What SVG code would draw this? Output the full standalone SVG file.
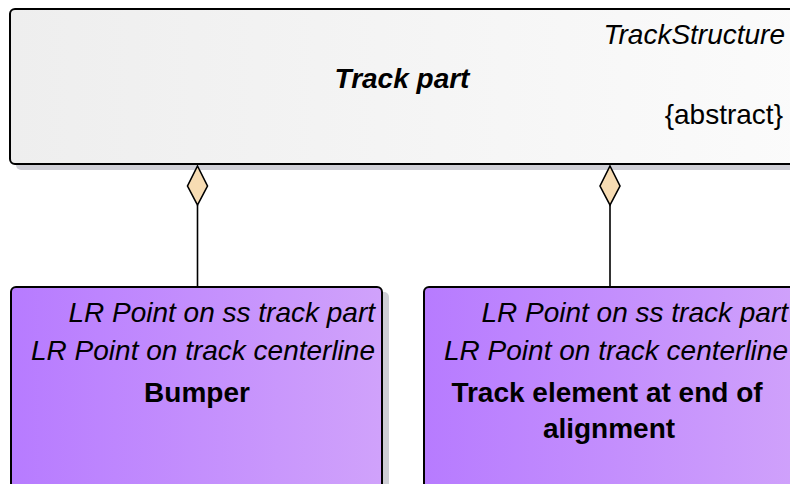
<svg xmlns="http://www.w3.org/2000/svg" width="790" height="484" viewBox="0 0 790 484">
<defs>
<linearGradient id="gGray" x1="0" y1="0" x2="1" y2="0">
<stop offset="0" stop-color="#eeeeee"/>
<stop offset="1" stop-color="#fbfbfb"/>
</linearGradient>
<linearGradient id="gPurple" x1="0" y1="0" x2="1" y2="0">
<stop offset="0" stop-color="#b77bff"/>
<stop offset="1" stop-color="#d0a2fb"/>
</linearGradient>
<style>
.shadow{fill:#cfcfd6}
.box{stroke:#000;stroke-width:2}
.t{font-family:"Liberation Sans",Arial,sans-serif;font-size:28px;fill:#000}
.i{font-style:italic}
.b{font-weight:bold}
.conn{stroke:#000;stroke-width:1.6;fill:none}
.dia{fill:#f7dcb3;stroke:#000;stroke-width:1.6;stroke-linejoin:miter}
</style>
</defs>
<g id="track-part">
<rect class="shadow" x="16" y="14" width="800" height="156" rx="5"/>
<rect class="box" x="10" y="9" width="800" height="155" rx="5" fill="url(#gGray)"/>
<text class="t i" x="785" y="44" text-anchor="end">TrackStructure</text>
<text class="t i b" x="402" y="88" text-anchor="middle">Track part</text>
<text class="t" x="783" y="124" text-anchor="end">{abstract}</text>
</g>
<g id="bumper">
<rect class="shadow" x="17" y="292" width="372" height="210" rx="5"/>
<rect class="box" x="11" y="287" width="371" height="210" rx="5" fill="url(#gPurple)"/>
<text class="t i" x="375" y="322" text-anchor="end">LR Point on ss track part</text>
<text class="t i" x="375" y="360" text-anchor="end">LR Point on track centerline</text>
<text class="t b" x="197" y="402" text-anchor="middle">Bumper</text>
</g>
<g id="track-element-end">
<rect class="shadow" x="430" y="292" width="380" height="210" rx="5"/>
<rect class="box" x="424" y="287" width="380" height="210" rx="5" fill="url(#gPurple)"/>
<text class="t i" x="788" y="322" text-anchor="end">LR Point on ss track part</text>
<text class="t i" x="788" y="360" text-anchor="end">LR Point on track centerline</text>
<text class="t b" x="607" y="402" text-anchor="middle">Track element at end of</text>
<text class="t b" x="609" y="438" text-anchor="middle">alignment</text>
</g>
<g id="connectors">
<line class="conn" x1="197.5" y1="205" x2="197.5" y2="287"/>
<path class="dia" d="M197.5 166 L207.5 186 L197.5 205 L187.5 186 Z"/>
<line class="conn" x1="610" y1="205" x2="610" y2="287"/>
<path class="dia" d="M610 166 L620 186 L610 205 L600 186 Z"/>
</g>
</svg>
